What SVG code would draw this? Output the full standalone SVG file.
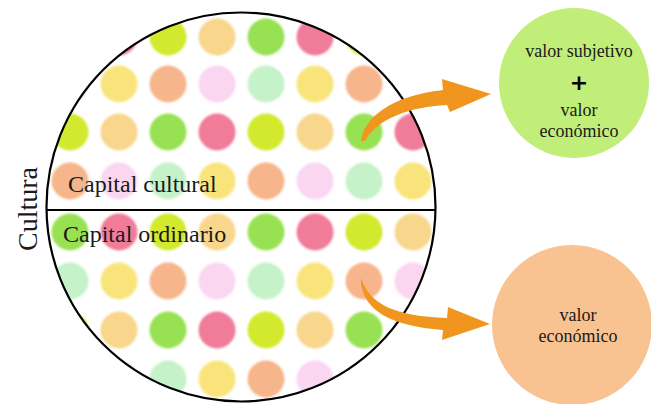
<svg xmlns="http://www.w3.org/2000/svg" width="651" height="404" viewBox="0 0 651 404">
  <style>
    .lime { fill: #d2e92e; }
    .peach { fill: #f8d68c; }
    .green { fill: #98e152; }
    .pink { fill: #f07b99; }
    .orange { fill: #f6b58b; }
    .lpink { fill: #fad6f0; }
    .mint { fill: #c6f2c9; }
    .yellow { fill: #f9e47c; }
    .arrow { fill: #f0961f; }
  </style>
  <defs>
    <clipPath id="disc">
      <circle cx="241" cy="207" r="194.5"/>
    </clipPath>
    <filter id="soft" x="-10%" y="-10%" width="120%" height="120%">
      <feGaussianBlur stdDeviation="1.2"/>
    </filter>
  </defs>

  <rect width="651" height="404" fill="#ffffff"/>

  <!-- Culture disc: dotted field split into two halves -->
  <g id="culture">
    <g clip-path="url(#disc)">
      <g filter="url(#soft)">
        <!-- row 1 -->
        <circle class="green" cx="70" cy="37" r="18.5"/><circle class="pink" cx="119" cy="37" r="18.5"/>
        <circle class="lime" cx="168" cy="37" r="18.5"/><circle class="peach" cx="217" cy="37" r="18.5"/>
        <circle class="green" cx="266" cy="37" r="18.5"/><circle class="pink" cx="315" cy="37" r="18.5"/>
        <circle class="lime" cx="364" cy="37" r="18.5"/><circle class="peach" cx="413" cy="37" r="18.5"/>
        <!-- row 2 -->
        <circle class="mint" cx="70" cy="84" r="18.5"/><circle class="yellow" cx="119" cy="84" r="18.5"/>
        <circle class="orange" cx="168" cy="84" r="18.5"/><circle class="lpink" cx="217" cy="84" r="18.5"/>
        <circle class="mint" cx="266" cy="84" r="18.5"/><circle class="yellow" cx="315" cy="84" r="18.5"/>
        <circle class="orange" cx="364" cy="84" r="18.5"/><circle class="lpink" cx="413" cy="84" r="18.5"/>
        <!-- row 3 -->
        <circle class="lime" cx="70" cy="132" r="18.5"/><circle class="peach" cx="119" cy="132" r="18.5"/>
        <circle class="green" cx="168" cy="132" r="18.5"/><circle class="pink" cx="217" cy="132" r="18.5"/>
        <circle class="lime" cx="266" cy="132" r="18.5"/><circle class="peach" cx="315" cy="132" r="18.5"/>
        <circle class="green" cx="364" cy="132" r="18.5"/><circle class="pink" cx="413" cy="132" r="18.5"/>
        <!-- row 4 -->
        <circle class="orange" cx="70" cy="181" r="18.5"/><circle class="lpink" cx="119" cy="181" r="18.5"/>
        <circle class="mint" cx="168" cy="181" r="18.5"/><circle class="yellow" cx="217" cy="181" r="18.5"/>
        <circle class="orange" cx="266" cy="181" r="18.5"/><circle class="lpink" cx="315" cy="181" r="18.5"/>
        <circle class="mint" cx="364" cy="181" r="18.5"/><circle class="yellow" cx="413" cy="181" r="18.5"/>
        <!-- row 5 -->
        <circle class="green" cx="70" cy="232" r="18.5"/><circle class="pink" cx="119" cy="232" r="18.5"/>
        <circle class="lime" cx="168" cy="232" r="18.5"/><circle class="peach" cx="217" cy="232" r="18.5"/>
        <circle class="green" cx="266" cy="232" r="18.5"/><circle class="pink" cx="315" cy="232" r="18.5"/>
        <circle class="lime" cx="364" cy="232" r="18.5"/><circle class="peach" cx="413" cy="232" r="18.5"/>
        <!-- row 6 -->
        <circle class="mint" cx="70" cy="281" r="18.5"/><circle class="yellow" cx="119" cy="281" r="18.5"/>
        <circle class="orange" cx="168" cy="281" r="18.5"/><circle class="lpink" cx="217" cy="281" r="18.5"/>
        <circle class="mint" cx="266" cy="281" r="18.5"/><circle class="yellow" cx="315" cy="281" r="18.5"/>
        <circle class="orange" cx="364" cy="281" r="18.5"/><circle class="lpink" cx="413" cy="281" r="18.5"/>
        <!-- row 7 -->
        <circle class="lime" cx="70" cy="330" r="18.5"/><circle class="peach" cx="119" cy="330" r="18.5"/>
        <circle class="green" cx="168" cy="330" r="18.5"/><circle class="pink" cx="217" cy="330" r="18.5"/>
        <circle class="lime" cx="266" cy="330" r="18.5"/><circle class="peach" cx="315" cy="330" r="18.5"/>
        <circle class="green" cx="364" cy="330" r="18.5"/><circle class="pink" cx="413" cy="330" r="18.5"/>
        <!-- row 8 -->
        <circle class="orange" cx="70" cy="379" r="18.5"/><circle class="lpink" cx="119" cy="379" r="18.5"/>
        <circle class="mint" cx="168" cy="379" r="18.5"/><circle class="yellow" cx="217" cy="379" r="18.5"/>
        <circle class="orange" cx="266" cy="379" r="18.5"/><circle class="lpink" cx="315" cy="379" r="18.5"/>
        <circle class="mint" cx="364" cy="379" r="18.5"/><circle class="yellow" cx="413" cy="379" r="18.5"/>
      </g>
    </g>
    <circle cx="241" cy="207" r="194.5" fill="none" stroke="#000" stroke-width="2.2"/>
    <line x1="46" y1="210" x2="436" y2="210" stroke="#000" stroke-width="2.2"/>
    <g font-family="'Liberation Serif', 'Times New Roman', serif" fill="#1a1a1a" font-size="24">
      <text x="68" y="192">Capital cultural</text>
      <text x="63" y="242">Capital ordinario</text>
    </g>
  </g>

  <g id="label-cultura">
    <text transform="translate(37,209) rotate(-90)" text-anchor="middle" font-size="28" font-family="'Liberation Serif', 'Times New Roman', serif" fill="#1a1a1a">Cultura</text>
  </g>

  <!-- Value of cultural capital -->
  <g id="value-cultural">
    <circle cx="574" cy="83" r="75" fill="#c1ee79"/>
    <g font-family="'Liberation Serif', 'Times New Roman', serif" fill="#1a1a1a" font-size="18" text-anchor="middle">
      <text x="579" y="57">valor subjetivo</text>
      <text x="579" y="116">valor</text>
      <text x="579" y="137">económico</text>
    </g>
    <text x="579" y="90" font-size="22" font-weight="bold" text-anchor="middle" font-family="'DejaVu Sans', sans-serif" fill="#000">+</text>
  </g>

  <!-- Value of ordinary capital -->
  <g id="value-ordinary">
    <circle cx="572" cy="325" r="80" fill="#f9c291"/>
    <g font-family="'Liberation Serif', 'Times New Roman', serif" fill="#1a1a1a" font-size="18" text-anchor="middle">
      <text x="578" y="321">valor</text>
      <text x="578" y="342">económico</text>
    </g>
  </g>

  <!-- Curved arrows leading out of each half -->
  <g id="connectors">
    <path class="arrow" d="M361 141 C364 118 390 96 443 90 L442 79 L491 94 L450 112 L447 105 C410 107 378 118 365 141 Z"/>
    <path class="arrow" d="M361 278 C370 305 395 316 447 318 L448 307 L490 324 L442 340 L443 330 C390 326 364 310 361 283 Z"/>
  </g>
</svg>
